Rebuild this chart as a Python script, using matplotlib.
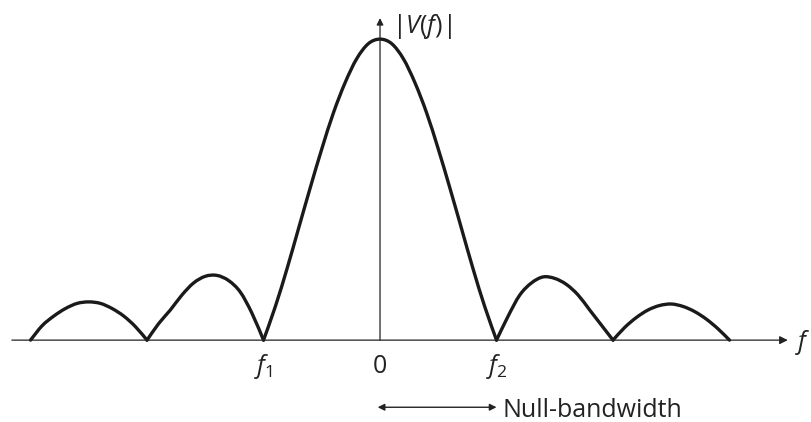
# sinc-like amplitude spectrum |V(f)| with null-bandwidth annotation
import matplotlib.pyplot as plt
from matplotlib.path import Path
from matplotlib.patches import PathPatch

plt.rcParams['mathtext.fontset'] = 'custom'
plt.rcParams['mathtext.rm'] = 'Open Sans'
plt.rcParams['mathtext.it'] = 'Open Sans:italic'

# frequency in units of the null spacing, amplitude relative to the peak
# one list per lobe, each lobe runs null to null
lobe_f = [
    [-3.0, -2.9, -2.8, -2.7, -2.6, -2.5, -2.4, -2.3, -2.2, -2.1, -2.0],
    [-2.0, -1.9, -1.8, -1.7, -1.6, -1.5, -1.4, -1.3, -1.2, -1.1, -1.0],
    [-1.0, -0.9, -0.8, -0.7, -0.6, -0.5, -0.4, -0.3, -0.2, -0.1, 0.0,
     0.1, 0.2, 0.3, 0.4, 0.5, 0.6, 0.7, 0.8, 0.9, 1.0],
    [1.0, 1.1, 1.2, 1.3, 1.4, 1.5, 1.6, 1.7, 1.8, 1.9, 2.0],
    [2.0, 2.1, 2.2, 2.3, 2.4, 2.5, 2.6, 2.7, 2.8, 2.9, 3.0],
]
lobe_v = [
    [0.0, 0.048, 0.08, 0.105, 0.122, 0.127, 0.122, 0.105, 0.08, 0.045, 0.0],
    [0.0, 0.055, 0.10, 0.15, 0.19, 0.212, 0.215, 0.198, 0.16, 0.09, 0.0],
    [0.0, 0.11, 0.235, 0.37, 0.505, 0.635, 0.755, 0.855, 0.935, 0.985, 1.0,
     0.985, 0.935, 0.855, 0.755, 0.635, 0.505, 0.37, 0.235, 0.11, 0.0],
    [0.0, 0.08, 0.15, 0.19, 0.21, 0.205, 0.185, 0.15, 0.10, 0.05, 0.0],
    [0.0, 0.042, 0.075, 0.10, 0.115, 0.12, 0.112, 0.095, 0.07, 0.038, 0.0],
]

tick_pos = [-1.0, 0.0, 1.0]
tick_labels = [r'$\mathit{f}_1$', '0', r'$\mathit{f}_2$']


def smooth_path(xs, ys):
    # bezier curve going through the given points (catmull-rom tangents)
    pts = list(zip(xs, ys))
    verts = [pts[0]]
    codes = [Path.MOVETO]
    n = len(pts)
    for i in range(n - 1):
        p0 = pts[max(i - 1, 0)]
        p1 = pts[i]
        p2 = pts[i + 1]
        p3 = pts[min(i + 2, n - 1)]
        c1 = (p1[0] + (p2[0] - p0[0]) / 6, p1[1] + (p2[1] - p0[1]) / 6)
        c2 = (p2[0] - (p3[0] - p1[0]) / 6, p2[1] - (p3[1] - p1[1]) / 6)
        verts += [c1, c2, p2]
        codes += [Path.CURVE4] * 3
    return Path(verts, codes)


fig = plt.figure(figsize=(8.12, 4.22), dpi=100)
ax = fig.add_axes([0, 0, 1, 1])
ax.set_xlim(-3.262, 3.708)
ax.set_ylim(-0.272, 1.13)
ax.axis('off')

# axes with arrows
ax.annotate('', xy=(3.50, 0), xytext=(-3.16, 0),
            arrowprops=dict(arrowstyle='-|>', color='#222222', lw=0.9,
                            mutation_scale=12, shrinkA=0, shrinkB=0))
ax.annotate('', xy=(0, 1.07), xytext=(0, 0),
            arrowprops=dict(arrowstyle='-|>', color='#222222', lw=0.9,
                            mutation_scale=10, shrinkA=0, shrinkB=0))

# spectrum curve
for xs, ys in zip(lobe_f, lobe_v):
    ax.add_patch(PathPatch(smooth_path(xs, ys), facecolor='none',
                           edgecolor='#1a1a1a', linewidth=2.4,
                           joinstyle='round', capstyle='round'))

# labels
txt = dict(color='#222222', family='Open Sans', fontsize=18)
for x, lab in zip(tick_pos, tick_labels):
    ax.text(x, -0.11, lab, ha='center', va='baseline', **txt)
ax.text(3.63, -0.03, r'$\mathit{f}$', ha='center', va='baseline', **txt)
ax.text(0.10, 1.02, r'$|\mathit{V}(\mathit{f})|$', ha='left', va='baseline', **txt)

# null-bandwidth arrow
ax.annotate('', xy=(1.0, -0.223), xytext=(-0.02, -0.223),
            arrowprops=dict(arrowstyle='<|-|>', color='#222222', lw=1.0,
                            mutation_scale=10, shrinkA=0, shrinkB=0))
ax.text(1.05, -0.256, 'Null-bandwidth', ha='left', va='baseline', **txt)

plt.savefig('out.png', dpi=100)
